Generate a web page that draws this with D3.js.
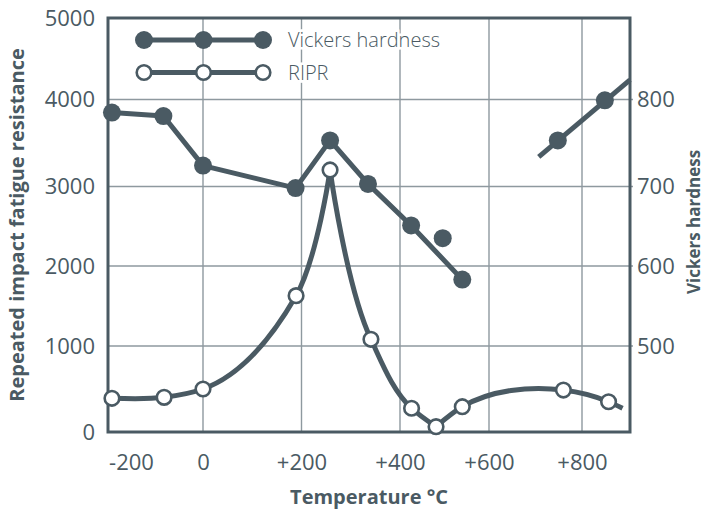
<!DOCTYPE html>
<html>
<head>
<meta charset="utf-8">
<script src="https://cdn.jsdelivr.net/npm/d3@7"></script>
<style>
  body { margin: 0; background: #fff; }
  text { font-family: "Open Sans", sans-serif; }
</style>
</head>
<body>
<svg id="chart" width="708" height="510"></svg>
<script>
// Temperature axis ticks (°C)
const tempTicks = [-200, 0, 200, 400, 600, 800];
const tempTickLabels = ["-200", "0", "+200", "+400", "+600", "+800"];
const tempGridValues = [0, 200, 400, 600, 800];

// Left axis: repeated impact fatigue resistance
const riprTicks = [0, 1000, 2000, 3000, 4000, 5000];
const riprGridValues = [1000, 2000, 3000, 4000];

// Right axis: Vickers hardness
const hardnessTicks = [500, 600, 700, 800];

// RIPR series (open circles)
const riprTemps = [-253, -108, 0, 189, 258, 341, 426, 481, 540, 760, 857];
const riprValues = [392, 403, 500, 1629, 3190, 1084, 276, 62, 294, 488, 352];
// the curve runs on a little past the last measured point
const riprTailTemp = [887];
const riprTailValue = [276];

// Vickers hardness series (filled circles)
const vickersTemps = [-253, -110, 0, 188, 258, 335, 425, 540];
const vickersValues = [785, 781, 724, 698, 753, 703, 651, 583];
const vickersLoneTemps = [496];
const vickersLoneValues = [635];
const vickersHighTemps = [748, 849];
const vickersHighValues = [753, 799];
const vickersHighTrendTemps = [707, 903];
const vickersHighTrendValues = [734, 824];

const ink = "#4a5a63";
const gridColor = "#8e999f";

const svg = d3.select("#chart");
const plotL = 108, plotR = 630, plotT = 18, plotB = 432;

// The temperature axis of this diagram is not evenly spaced
const x = d3.scaleLinear()
  .domain([-264, -200, 0, 200, 400, 600, 800, 903])
  .range([plotL, 131, 203, 301.5, 400, 489, 582, plotR]);

const y = d3.scaleLinear()
  .domain([0, 1000, 2000, 3000, 4000, 5000])
  .range([plotB, 346, 266, 186.5, 99.5, plotT]);

const yH = d3.scaleLinear()
  .domain([400, 500, 600, 700, 800, 900])
  .range([plotB, 346, 266, 186.5, 99.5, plotT]);

// grid
const grid = svg.append("g").attr("stroke", gridColor).attr("stroke-width", 1.4);
grid.selectAll("line.h").data(riprGridValues).join("line")
  .attr("x1", plotL).attr("x2", plotR + 3)
  .attr("y1", d => y(d)).attr("y2", d => y(d));
grid.selectAll("line.v").data(tempGridValues).join("line")
  .attr("x1", d => x(d)).attr("x2", d => x(d))
  .attr("y1", plotT).attr("y2", plotB);

// frame
svg.append("rect")
  .attr("x", plotL).attr("y", plotT)
  .attr("width", plotR - plotL).attr("height", plotB - plotT)
  .attr("fill", "none").attr("stroke", ink).attr("stroke-width", 3);

// axes
const tickFont = 22;
const axL = svg.append("g").attr("transform", `translate(${plotL},0)`)
  .call(d3.axisLeft(y).tickValues(riprTicks).tickSize(0).tickPadding(13).tickFormat(d3.format("d")));
const axR = svg.append("g").attr("transform", `translate(${plotR},0)`)
  .call(d3.axisRight(yH).tickValues(hardnessTicks).tickSize(0).tickPadding(7).tickFormat(d3.format("d")));
const axB = svg.append("g").attr("transform", `translate(0,${plotB})`)
  .call(d3.axisBottom(x).tickValues(tempTicks).tickSize(0).tickPadding(22)
    .tickFormat((d, i) => tempTickLabels[i]));
[axL, axR, axB].forEach(a => {
  a.select(".domain").remove();
  a.selectAll("text")
    .attr("fill", ink)
    .style("font-family", "'Open Sans', sans-serif")
    .style("font-size", tickFont + "px")
    .style("font-weight", 400);
});

// axis titles
svg.append("text")
  .attr("transform", `translate(24,${(plotT + plotB) / 2}) rotate(-90)`)
  .attr("text-anchor", "middle")
  .attr("fill", ink).style("font-size", "20px").style("font-weight", 700)
  .text("Repeated impact fatigue resistance");
svg.append("text")
  .attr("transform", `translate(700,${(plotT + plotB) / 2 - 3}) rotate(-90)`)
  .attr("text-anchor", "middle")
  .attr("fill", ink).style("font-size", "17px").style("font-weight", 700)
  .text("Vickers hardness");
svg.append("text")
  .attr("x", (plotL + plotR) / 2).attr("y", 504)
  .attr("text-anchor", "middle")
  .attr("fill", ink).style("font-size", "20px").style("font-weight", 700)
  .text("Temperature °C");

const lineW = 5;

// Vickers hardness lines
const vLine = d3.line().x(d => x(d[0])).y(d => yH(d[1]));
svg.append("path")
  .datum(d3.zip(vickersTemps, vickersValues))
  .attr("d", vLine)
  .attr("fill", "none").attr("stroke", ink).attr("stroke-width", lineW).attr("stroke-linejoin", "round");
svg.append("path")
  .datum(d3.zip(vickersHighTrendTemps, vickersHighTrendValues))
  .attr("d", vLine)
  .attr("fill", "none").attr("stroke", ink).attr("stroke-width", lineW);

// RIPR curve: smooth pieces that meet in sharp corners at the peak and the trough
const rLine = d3.line().x(d => x(d[0])).y(d => y(d[1])).curve(d3.curveCatmullRom.alpha(1));
const riprAll = d3.zip(riprTemps.concat(riprTailTemp), riprValues.concat(riprTailValue));
const peak = riprValues.indexOf(d3.max(riprValues));
const trough = riprValues.indexOf(d3.min(riprValues.slice(peak)));
[riprAll.slice(0, peak + 1), riprAll.slice(peak, trough + 1), riprAll.slice(trough)].forEach(seg => {
  svg.append("path")
    .datum(seg)
    .attr("d", rLine)
    .attr("fill", "none").attr("stroke", ink).attr("stroke-width", lineW)
    .attr("stroke-linejoin", "round");
});

// markers
svg.append("g").selectAll("circle")
  .data(d3.zip(vickersTemps.concat(vickersLoneTemps, vickersHighTemps),
               vickersValues.concat(vickersLoneValues, vickersHighValues)))
  .join("circle")
  .attr("cx", d => x(d[0])).attr("cy", d => yH(d[1]))
  .attr("r", 9).attr("fill", ink);

svg.append("g").selectAll("circle")
  .data(d3.zip(riprTemps, riprValues))
  .join("circle")
  .attr("cx", d => x(d[0])).attr("cy", d => y(d[1]))
  .attr("r", 7.3).attr("fill", "#fff").attr("stroke", ink).attr("stroke-width", 2.6);

// legend
const legend = svg.append("g");
const legendRows = [
  { label: "Vickers hardness", filled: true, y: 40 },
  { label: "RIPR", filled: false, y: 72.5 }
];
const legendXs = [144, 203.5, 263];
legendRows.forEach(r => {
  legend.append("line")
    .attr("x1", legendXs[0]).attr("x2", legendXs[2])
    .attr("y1", r.y).attr("y2", r.y)
    .attr("stroke", ink).attr("stroke-width", lineW);
  legend.append("g").selectAll("circle").data(legendXs).join("circle")
    .attr("cx", d => d).attr("cy", r.y)
    .attr("r", r.filled ? 9 : 7.3)
    .attr("fill", r.filled ? ink : "#fff")
    .attr("stroke", r.filled ? "none" : ink)
    .attr("stroke-width", 2.6);
  legend.append("text")
    .attr("x", 288).attr("y", r.y + 7)
    .attr("fill", ink)
    .attr("stroke", "#fff").attr("stroke-width", 5).attr("paint-order", "stroke")
    .style("font-size", "20px").style("font-weight", 300)
    .text(r.label);
});
</script>
</body>
</html>
